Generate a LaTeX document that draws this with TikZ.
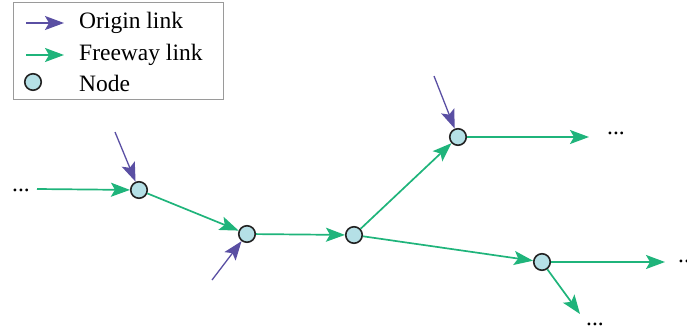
\documentclass[tikz,border=0pt]{standalone}
\usepackage{fontspec}
\setmainfont{Liberation Serif}
\usetikzlibrary{arrows.meta}
\definecolor{originc}{HTML}{5A4FA3}
\definecolor{freewayc}{HTML}{1FB47B}
\definecolor{nodefill}{HTML}{B5E0E6}
\definecolor{nodeline}{HTML}{222222}
\definecolor{framec}{HTML}{9A9A9A}
\tikzset{
  junction/.style={circle, draw=nodeline, fill=nodefill, line width=1.6pt, minimum size=16.5pt, inner sep=0pt},
  originlink/.style={draw=originc, line width=1.3pt, -{Stealth[length=19pt, width=14pt, inset=4pt]}},
  freewaylink/.style={draw=freewayc, line width=1.7pt, -{Stealth[length=19pt, width=14pt, inset=4pt]}},
  label/.style={anchor=base west, inner sep=0pt, font=\fontsize{23.5}{28}\selectfont},
}
\begin{document}
\begin{tikzpicture}[x=1pt, y=-1pt]
\useasboundingbox (0,0) rectangle (687,335);

% legend
\node[draw=framec, line width=0.9pt, minimum width=210pt, minimum height=97pt, inner sep=0pt, anchor=north west] (legend) at (13,2) {};
\coordinate (lo1) at (26,23);
\coordinate (lo2) at (64,23);
\draw[originlink] (lo1) -- (lo2);
\coordinate (lf1) at (26,55);
\coordinate (lf2) at (64,55);
\draw[freewaylink] (lf1) -- (lf2);
\node[junction] (ln) at (33,82) {};
\node[label] (lt1) at (79,28) {Origin link};
\node[label] (lt2) at (79,60) {Freeway link};
\node[label] (lt3) at (79,91) {Node};

% network nodes
\node[junction] (n1) at (139,190) {};
\node[junction] (n2) at (247,234) {};
\node[junction] (n3) at (354,235) {};
\node[junction] (n4) at (458,137) {};
\node[junction] (n5) at (542,262) {};

% continuation marks
\node[label] (dl) at (12,191) {...};
\node[label] (d4) at (607,134) {...};
\node[label] (d5) at (678,262) {...};
\node[label] (db) at (586,325) {...};

% free ends
\coordinate (in1) at (37,189);
\coordinate (o1) at (115,132);
\coordinate (o2) at (212,280);
\coordinate (o4) at (434,76);
\coordinate (out4) at (589,137);
\coordinate (out5) at (665,262);
\coordinate (outb) at (580,314);

% freeway links
\draw[freewaylink] (in1) -- (n1);
\draw[freewaylink] (n1) -- (n2);
\draw[freewaylink] (n2) -- (n3);
\draw[freewaylink] (n3) -- (n4);
\draw[freewaylink] (n3) -- (n5);
\draw[freewaylink] (n4) -- (out4);
\draw[freewaylink] (n5) -- (out5);
\draw[freewaylink] (n5) -- (outb);

% origin links
\draw[originlink] (o1) -- (n1);
\draw[originlink] (o2) -- (n2);
\draw[originlink] (o4) -- (n4);
\end{tikzpicture}
\end{document}
